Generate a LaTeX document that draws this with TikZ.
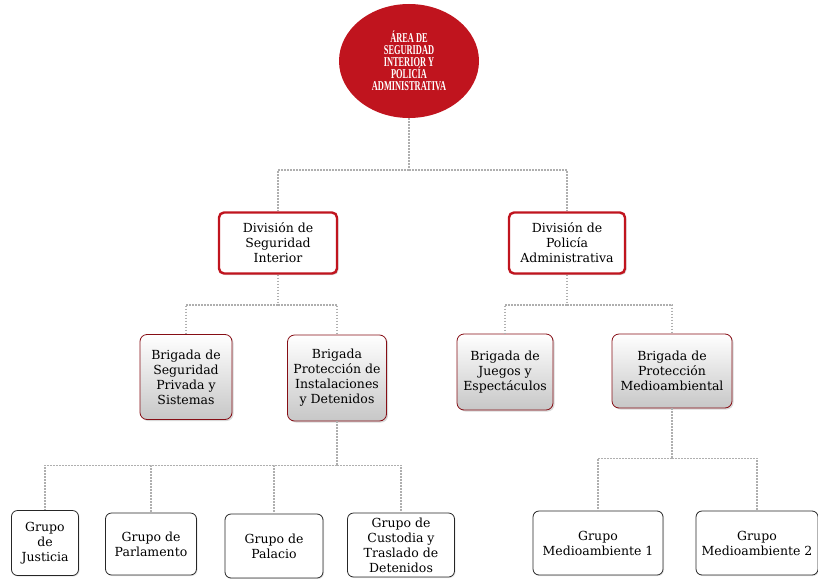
\documentclass[tikz,border=0pt]{standalone}
\usepackage{fontspec}
\setmainfont{DejaVu Serif}
\newfontfamily\areafont[FakeStretch=0.62]{Liberation Serif}
\usetikzlibrary{positioning,shapes.geometric,shadows,calc}
\definecolor{areared}{RGB}{192,20,30}
\definecolor{enlacegray}{RGB}{175,175,175}

\begin{document}
\begin{tikzpicture}[x=1pt, y=-1pt,
    area/.style={ellipse, fill=areared, inner sep=0pt, minimum width=140pt, minimum height=114pt,
        text=white, align=center, font=\areafont\bfseries\fontsize{13.5}{11.9}\selectfont},
    division/.style={rectangle, draw=areared, line width=2.4pt, rounded corners=5pt, fill=white,
        drop shadow={opacity=0.3, shadow xshift=1.5pt, shadow yshift=-1.5pt},
        inner sep=0pt, align=center, font=\fontsize{12.5}{15}\selectfont},
    brigada/.style={rectangle, draw=areared!70!black, line width=0.8pt, rounded corners=7pt,
        top color=white, bottom color=black!22,
        drop shadow={opacity=0.3, shadow xshift=1.5pt, shadow yshift=-1.5pt},
        inner sep=0pt, align=center, font=\fontsize{12.5}{15}\selectfont},
    grupo/.style={rectangle, draw=black!85, line width=0.8pt, rounded corners=6pt, fill=white,
        drop shadow={opacity=0.2, shadow xshift=1pt, shadow yshift=-1pt},
        inner sep=0pt, align=center, font=\fontsize{12.5}{15}\selectfont},
    enlace/.style={draw=enlacegray, line width=1.6pt, dash pattern=on 1.6pt off 1.4pt}]
    \useasboundingbox (0,0) rectangle (818,578);

    % area
    \node[area] (area) at (409,61) {ÁREA DE\\SEGURIDAD\\INTERIOR Y\\POLICÍA\\ADMINISTRATIVA};

    % divisiones
    \node[division, minimum width=118pt, minimum height=61pt] (divseg) at (278,243) {División de\\Seguridad\\Interior};
    \node[division, minimum width=116pt, minimum height=61pt] (divpol) at (567,243) {División de\\Policía\\Administrativa};

    % brigadas
    \node[brigada, minimum width=92pt, minimum height=85pt] (brigpriv) at (186,377) {Brigada de\\Seguridad\\Privada y\\Sistemas};
    \node[brigada, minimum width=99pt, minimum height=86pt] (briginst) at (337,378) {Brigada\\Protección de\\Instalaciones\\y Detenidos};
    \node[brigada, minimum width=96pt, minimum height=76pt] (brigjueg) at (505,372) {Brigada de\\Juegos y\\Espectáculos};
    \node[brigada, minimum width=120pt, minimum height=74pt] (brigmed) at (672,371) {Brigada de\\Protección\\Medioambiental};

    % grupos
    \node[grupo, minimum width=67pt, minimum height=65pt] (gjus) at (45,543) {Grupo\\de\\Justicia};
    \node[grupo, minimum width=91pt, minimum height=62pt] (gparl) at (151,544) {Grupo de\\Parlamento};
    \node[grupo, minimum width=98pt, minimum height=64pt] (gpal) at (274,546) {Grupo de\\Palacio};
    \node[grupo, minimum width=107pt, minimum height=64pt] (gcus) at (401,545) {Grupo de\\Custodia y\\Traslado de\\Detenidos};
    \node[grupo, minimum width=130pt, minimum height=64pt] (gmed1) at (598,543) {Grupo\\Medioambiente 1};
    \node[grupo, minimum width=122pt, minimum height=64pt] (gmed2) at (757,543) {Grupo\\Medioambiente 2};

    % enlaces
    \draw[enlace] (area.south) -- ++(0,52) coordinate (barea);
    \draw[enlace] (barea) -| (divseg.north);
    \draw[enlace] (barea) -| (divpol.north);

    \draw[enlace] (divseg.south) -- ++(0,30) coordinate (bseg);
    \draw[enlace] (bseg) -| (brigpriv.north);
    \draw[enlace] (bseg) -| (briginst.north);

    \draw[enlace] (divpol.south) -- ++(0,30) coordinate (bpol);
    \draw[enlace] (bpol) -| (brigjueg.north);
    \draw[enlace] (bpol) -| (brigmed.north);

    \draw[enlace] (briginst.south) -- ++(0,44) coordinate (binst);
    \foreach \g in {gjus,gparl,gpal,gcus}
        \draw[enlace] (binst) -| (\g.north);

    \draw[enlace] (brigmed.south) -- ++(0,50) coordinate (bmed);
    \draw[enlace] (bmed) -| (gmed1.north);
    \draw[enlace] (bmed) -| (gmed2.north);
\end{tikzpicture}
\end{document}
